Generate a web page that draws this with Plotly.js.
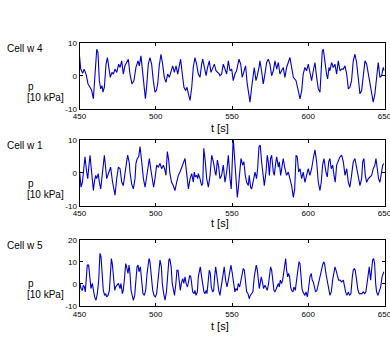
<!DOCTYPE html>
<html>
<head>
<meta charset="utf-8">
<script src="https://cdn.plot.ly/plotly-3.0.1.min.js"></script>
<style>html,body{margin:0;padding:0;background:#fff;overflow:hidden;}#chart{width:390px;height:337px;}</style>
</head>
<body>
<div id="chart"></div>
<script>
// ---- data ----
const cellLabels = ['Cell w 4', 'Cell w 1', 'Cell w 5'];
const yLabel = ['p', '[10 kPa]'];
const xLabel = 't [s]';
const xTicks = [450, 500, 550, 600, 650];
const yTicks12 = [-10, 0, 10];
const yTicks3 = [-10, 0, 10, 20];

const t1 = [450,450.8,452.1,453,454.3,455.6,456.9,458,459.1,460.2,461.3,462.1,463,463.9,464.8,465.4,466.3,467.4,468.3,469.4,470.2,471.3,472.2,473.3,474.4,475.7,476.6,477.7,478.7,479.8,480.9,482,483.1,484.4,485.7,487,488.4,489.2,490.3,491.4,492.3,493.2,494,495.1,496.2,497.3,498.4,499.5,500.4,501.3,502.3,503.4,504.5,505.6,506.7,507.8,508.9,510,511.1,512.2,513.3,514.4,515.5,516.3,517.4,518.5,519.6,520.5,521.4,522.5,523.6,524.6,525.7,526.8,527.9,529,530.1,530.8,531.9,533,534,535.1,536.2,537.3,538.4,539.5,540.6,541.7,
542.1,543.2,544.3,545.4,546.5,547.6,548.7,549.8,550.8,551.9,553,554.6,555.7,556.7,557.8,558.9,560,561.1,561.8,562.9,564,564.6,565.7,566.6,567.9,568.3,569.4,570.5,571.6,572.7,573.8,574.9,576,577.1,578.2,579.3,580.4,581.4,582.5,583.6,584.7,585.8,586.9,588,589.1,590.2,592,593.5,594.6,595.7,596.7,597.8,598.9,600,601.1,602.2,603.3,604.4,605.5,606.6,607.7,608.3,609.2,609.9,611,612,612.7,613.6,614.2,615.3,616.4,617.5,618.6,619.7,620.8,621.9,623,624.1,625.2,626.3,627.3,628.4,629.5,630.6,631.7,632.8,633.9,635,636.1,637.2,638.3,639.4,640.5,641.6,642.6,643.7,644.8,645.9,647,648.1,649.2,649.9];
const p1 = [6,2,0.7,2,0.5,-2.5,-3.5,-4.5,-7,-0.5,8,7,-1.5,-4,-3,-5,-3.5,3.5,5.5,2,-0.5,1,0.5,2,1,3.5,2.5,4.5,0.5,3,4,5,0.5,-2.5,-1.5,2.5,4.5,3,6,1.5,-3.5,-7,-3.5,3.5,5.5,3.5,-1.5,-5,-4.5,-2.5,3,6.5,3.5,-0.5,-2,0.5,-0.5,1.5,3,1,3,0.5,3.5,5,0.5,-3.5,-4.5,-3.5,-5.5,-7.5,-3.5,2.5,5.5,3.5,0.5,-0.5,3.5,5,2.5,0,2.5,4.5,1,2,3.5,1.5,1,0.5,
0,0.5,3.5,2,0.5,4.5,1.5,2,-1.5,0.5,1.5,5,3.5,-0.5,1.5,3,-2.5,-6,-8,-3.5,1.5,2.5,-1.5,0,3,4.5,1.5,-2.5,0.5,4,5,3.5,0,1.5,4.5,2,4,0.5,1.5,2.5,-0.5,2.5,4,5.5,2.5,-0.5,-1.5,-4.5,-7,-4.5,0.5,2.5,1.5,3.5,0.5,-1.5,1.5,4,-0.5,-4,-5,0.5,7.5,8,3.5,0.5,-1,2.5,1.5,4,2.5,3.5,0.5,4.5,1.5,2,2,3,0.5,-4,-3.5,-1.5,4.5,6.5,4,-1.5,-5.5,-4.5,0.5,4.5,3.5,0.5,-2.5,-6,-8,-5.5,0.5,4,-0.5,0,2.5,1.5];

const t2 = [450,450.3,451,451.9,453,453.6,454.7,455.4,456.2,456.9,457.5,458.4,459.1,459.7,460.6,461.3,462.3,463,463.9,464.5,465.6,466.3,467.2,467.8,469.3,470.4,471.7,473.3,474.4,475.5,476.6,477.7,478.7,479.8,480.9,481.6,482.2,482.7,483.1,484.2,485.3,486.4,487,487.9,488.8,489.2,489.7,490.8,491.9,493,494,495.1,495.8,496.7,497.8,498.6,499.5,500.6,501.7,502.8,503.9,505,505.8,506.7,507.6,508.5,509.3,510.4,511.5,512.6,513.7,514.8,515.9,517,518.1,519.2,519.8,520.7,521.4,522.5,523.6,524.6,525.3,525.9,526.8,527.5,527.9,529,530.1,530.8,531.5,532.4,533.4,534.5,535.6,536.7,537.8,538.9,539.5,540.4,541.3,
542.1,543.2,544.3,545.4,546.5,547.6,548.7,549.5,550.8,551.7,552.6,553.5,554.1,555.2,555.9,557,557.8,558.7,559.6,560.7,561.3,562.2,562.9,564,565.1,566.1,566.8,567.7,568.5,569.4,570.5,571.2,572.3,573.1,573.8,574.5,575.3,576,577.1,577.7,578.6,579.3,580.4,581,581.9,582.8,583.6,584.7,585.8,586.9,588,589.1,590.2,591.1,592,592.8,593.7,594.6,595.7,596.7,597.8,598.9,600,601.1,602.2,603.3,604.4,605.5,606.6,607.7,608.5,609.4,610.3,611.6,612.5,613.4,614.2,615.1,616,616.9,617.7,618.6,619.7,620.8,621.9,623,624.1,625.2,626.3,627.3,628.4,629.5,630.6,631.7,632.8,633.9,635,635.7,636.5,637.4,638.3,639.4,640.5,641.6,642.6,643.7,644.4,645.3,646.1,647,647.9,648.8,649.6];
const p2 = [0.7,-1.3,-4.4,-2.9,3.8,4.8,0.2,-1.8,2.3,5.3,2.3,-1.8,-5.4,-2.9,-0.8,-1.8,-0.3,-2.9,-4.9,-2.4,3.8,5.3,1.2,-1.8,0.2,1.7,-2.9,-6.8,-1.8,1.7,1.2,-2.9,-3.9,0.7,3.3,5.3,3.8,2.8,0.2,-3.4,-4.9,-1.8,2.8,4.3,4.8,6,7.9,3.3,-1.8,-4.4,-1.3,2.8,4.3,1.2,-2.9,-4.4,-1.8,2.3,1.7,2.8,1.2,2.3,1.2,-0.8,6.4,3.8,-0.3,-2.9,-3.9,-5.4,-2.9,-0.8,0.2,1.7,3.3,4.3,1.7,-2.9,-4.9,-1.8,-0.3,-2.9,0.2,-1.3,-0.8,-1.8,-0.3,-1.8,-3.9,-3.4,7.4,3.8,-1.8,-4.4,-0.8,5.3,3.3,0.2,-0.8,3.8,1.7,
-1.8,-0.8,2.3,-2.9,0.2,5.3,-1.8,-4.9,10.5,3.3,-3.9,-7.5,-4.9,2.3,4.3,2.3,3.3,-0.8,-2.9,-3.9,-0.8,-4.4,-4.9,-2.4,0.2,-1.8,1.2,7.9,8.4,3.3,-1.8,-3.9,0.2,5.3,3.3,-0.8,4.3,5.3,0.2,-0.8,2.8,4.8,1.7,3.3,-0.8,1.7,4.3,1.2,-0.8,0.2,-1.8,-3.9,-7.5,-4.9,5.3,4.8,0.2,1.2,-1.8,0.2,-2.9,-0.8,1.2,-0.8,1.2,4.3,6.9,3.3,-2.9,-5.4,-2.9,2.3,4.3,0.2,-1.3,3.3,4.3,1.2,2.3,-0.8,-2.9,2.3,3.3,4.8,5.3,3.3,-0.8,1.2,-2.9,-4.4,-0.8,3.3,4.3,1.7,-1.8,-3.9,-1.8,3.3,4.3,-0.8,-2.9,-1.8,-1.3,-0.8,1.2,2.3,4.3,0.2,-1.8,-2.9,-0.8,2.3,2.8];

const t3 = [450,450.3,451,451.9,452.5,453.2,453.8,454.5,455.1,456,456.9,457.5,458.4,459.1,459.9,460.8,461.7,462.6,463,463.4,464.1,464.8,465.6,466.5,467.2,467.8,468.7,469.6,470.2,470.9,471.5,472.2,473.1,473.7,474.4,475.5,476.6,477.2,478.1,478.7,479.6,480.3,480.9,481.8,482.5,483.1,483.8,484.4,485.3,486.2,487,487.7,488.4,489,489.9,490.8,491.6,492.5,493.4,494.3,494.9,495.6,496.2,497.1,498,498.9,499.7,500.6,501.5,502.1,502.8,503.7,504.3,505.2,506.1,507,507.9,508.6,509.2,510.1,510.8,511.7,512.3,513.2,513.9,514.6,515.5,516.1,516.8,517.7,518.4,519.2,519.9,520.8,521.7,522.3,523,523.6,524.2,525.1,525.7,526.4,527.3,527.9,528.6,529.2,530.1,530.8,531.6,532.3,533,533.6,534.5,535.1,535.8,536.4,537.3,538,538.6,539.3,539.9,540.6,541.3,
542.1,543.2,544.3,544.9,545.8,546.7,547.6,548.7,549.3,550.2,551.1,551.9,552.6,553.5,554.1,555,555.9,556.5,557.4,558.1,558.9,559.6,560.5,561.3,562,562.9,563.7,564.6,565.3,565.9,566.6,567.2,567.9,568.5,569.2,570.1,570.7,571.6,572.3,573.1,574,574.7,575.3,576,576.6,577.5,578.2,578.8,579.5,580.4,581,581.7,582.5,583.2,584.1,584.7,585.2,585.8,586.5,587.1,587.8,588.4,589.1,590,590.6,591.5,592.4,593.2,593.9,594.6,595.2,595.9,596.5,597.2,597.8,598.5,599.4,600.2,601.1,602,602.6,603.3,604,604.8,605.7,606.6,607.7,608.5,609.4,610.1,610.7,611.6,612.5,613.4,614.2,615.1,616,616.9,617.5,618.2,619,619.9,620.8,621.9,623,623.6,624.5,625.4,626.3,627.1,628,628.9,629.5,630.2,630.8,631.7,632.6,633.5,634.3,635.2,636.1,637,637.8,638.7,639.4,640,640.9,641.6,642.2,642.9,643.5,644.2,644.8,645.7,646.6,647.5,648.4,649,649.6];
const p3 = [-2.1,0.2,-2.1,-2.9,-0.6,-1.4,-3.6,2.4,8.5,8.5,3.2,-2.1,0.2,-3.6,-5.9,-7.4,-4.4,1.7,9.2,13.8,12.3,6.2,-2.9,-5.2,-4.4,-5.9,-5.2,-2.9,6.2,11.5,9.2,1.7,-2.9,-1.4,-0.6,0.2,-2.1,0.2,-4.4,-2.9,3.2,9.2,7.7,4.7,8.5,4.7,-2.9,-5.2,-7.4,-5.2,1.7,7.7,8.5,5.5,7.7,0.2,-4.4,-5.2,-2.9,4.7,9.2,11.5,10,4.7,-2.9,-5.2,-5.9,-4.4,1.7,8.5,10.8,7.7,0.2,-4.4,-7.4,-3.6,6.2,10.8,11.5,7.7,0.2,-3.6,-5.2,0.2,6.2,6.2,1.7,-2.9,0.2,2.4,0.2,3.2,0.2,-1.4,1.7,3.9,3.2,-1.4,-3.6,-4.4,-2.9,-5.2,-3.6,3.2,6.2,7.7,3.2,-1.4,-3.6,-4.4,-2.9,-4.4,3.2,6.2,4.7,-1.4,-3.6,-2.9,3.2,7.7,4.7,0.2,-2.9,
-5.2,0.2,6.2,7.7,1.7,-1.4,1.7,7.7,8.5,4.7,-1.4,-3.6,-2.1,-2.9,0.2,-1.4,1.7,4.7,7,6.2,0.2,-3.6,-4.4,-6.7,-5.2,-4.4,-3.6,3.2,7.7,8.5,6.2,1.7,-2.1,0.2,3.2,0.2,-2.1,-0.6,-1.4,-2.9,0.2,6.2,7.7,6.2,1.7,-2.9,-3.6,-2.1,-1.4,0.2,-1.4,1.7,0.2,1.7,6.2,10.8,11.5,6.2,3.2,4.7,3.2,-1.4,-2.9,-3.6,-1.4,-2.9,1.7,7.7,10,9.2,3.2,-2.1,-3.6,-4.4,-5.2,-3.6,-5.9,-2.1,3.2,4.7,1.7,0.9,-2.1,-3.6,-2.9,0.2,3.2,7,8.5,10,9.2,4.7,0.2,-2.1,-5.2,-3.6,1.7,6.2,7.7,6.2,3.2,1.7,1.7,0.9,1.7,-1.4,-3.6,-5.2,-3.6,-5.2,-4.4,3.2,6.2,7,6.2,1.7,-2.9,-4.4,-4.4,-4.4,-3.6,-4.4,-3.6,1.7,6.2,7.7,1.7,7.7,10.8,11.5,9.2,0.2,-3.6,-5.2,-3.6,-1.4,3.2,4.7,5.5];

// ---- layout helpers (pixel -> paper) ----
const W = 390, H = 337;
const px = x => x / W;
const py = y => 1 - y / H;
const FONT = 'Arial, "Liberation Sans", sans-serif';
const lineColor = '#0000cc';

const plotLeft = 79.5, plotRight = 384.5;
const panels = [
  {top: 42.7, bottom: 108.7, range: [-10, 10], ticks: yTicks12, t: t1, p: p1, xlabY: 128},
  {top: 139.7, bottom: 205.7, range: [-10, 10], ticks: yTicks12, t: t2, p: p2, xlabY: 223},
  {top: 239.7, bottom: 306, range: [-10, 20], ticks: yTicks3, t: t3, p: p3, xlabY: 326}
];

const data = [];
const layout = {
  width: W, height: H,
  margin: {l: 0, r: 0, t: 0, b: 0},
  paper_bgcolor: '#fff', plot_bgcolor: '#fff',
  showlegend: false,
  font: {family: FONT, size: 8, color: '#000'},
  annotations: []
};

panels.forEach((pn, i) => {
  const k = i === 0 ? '' : String(i + 1);
  data.push({
    x: pn.t, y: pn.p, type: 'scatter', mode: 'lines',
    xaxis: 'x' + k, yaxis: 'y' + k,
    line: {color: lineColor, width: 1.1},
    hoverinfo: 'skip'
  });
  const axCommon = {
    showline: true, linecolor: '#000', linewidth: 1, mirror: 'ticks',
    ticks: 'inside', ticklen: 3, tickwidth: 1, tickcolor: '#000',
    showgrid: false, zeroline: false, ticklabeloverflow: 'allow',
    tickfont: {family: FONT, size: 8, color: '#000'}
  };
  layout['xaxis' + k] = Object.assign({}, axCommon, {
    domain: [px(plotLeft), px(plotRight)],
    anchor: 'y' + k, range: [450, 650], tickvals: xTicks,
    ticktext: xTicks.map(String)
  });
  layout['yaxis' + k] = Object.assign({}, axCommon, {
    domain: [py(pn.bottom), py(pn.top)],
    anchor: 'x' + k, range: pn.range, tickvals: pn.ticks,
    ticktext: pn.ticks.map(String)
  });
  layout.annotations.push(
    {text: cellLabels[i], xref: 'paper', yref: 'paper', x: px(5), y: py(pn.top + 6),
     xanchor: 'left', yanchor: 'middle', showarrow: false, font: {family: FONT, size: 10, color: '#000'}},
    {text: yLabel[0], xref: 'paper', yref: 'paper', x: px(26), y: py(pn.top + 44),
     xanchor: 'left', yanchor: 'middle', showarrow: false, font: {family: FONT, size: 10, color: '#000'}},
    {text: yLabel[1], xref: 'paper', yref: 'paper', x: px(25), y: py(pn.top + 55),
     xanchor: 'left', yanchor: 'middle', showarrow: false, font: {family: FONT, size: 10, color: '#000'}},
    {text: xLabel, xref: 'paper', yref: 'paper', x: px(220), y: py(pn.xlabY),
     xanchor: 'center', yanchor: 'middle', showarrow: false, font: {family: FONT, size: 11, color: '#000'}}
  );
});

Plotly.newPlot('chart', data, layout, {staticPlot: true, displayModeBar: false});
</script>
</body>
</html>
